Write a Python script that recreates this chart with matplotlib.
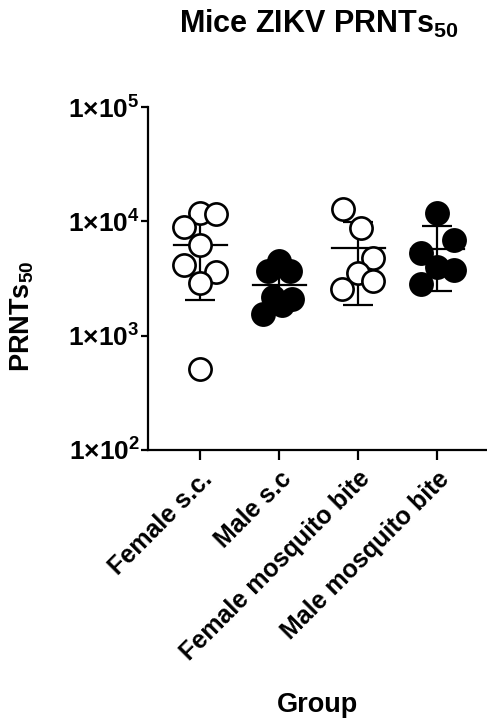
import numpy as np
import matplotlib
matplotlib.use("Agg")
import matplotlib.pyplot as plt

plt.rcParams['font.family'] = ['Liberation Sans', 'DejaVu Sans']
plt.rcParams['font.weight'] = 'bold'
plt.rcParams['mathtext.fontset'] = 'custom'
plt.rcParams['mathtext.rm'] = 'Liberation Sans:bold'
plt.rcParams['mathtext.bf'] = 'Liberation Sans:bold'
plt.rcParams['mathtext.it'] = 'Liberation Sans:bold'

groups = ['Female s.c.', 'Male s.c', 'Female mosquito bite', 'Male mosquito bite']
filled = [False, True, False, True]

# PRNT50 titres per mouse
female_sc = [11800, 11650, 9010, 6230, 4170, 3640, 2890, 512]
male_sc = [4500, 3650, 3700, 2200, 2100, 1850, 1560]
female_bite = [12780, 8720, 4770, 3530, 2990, 2560]
male_bite = [11800, 6890, 5270, 3980, 3718, 2845]
values = [female_sc, male_sc, female_bite, male_bite]

# horizontal scatter of the points inside each column
jitter = [
    [0, 0.2, -0.2, 0, -0.2, 0.2, 0, 0],
    [0, -0.14, 0.14, -0.08, 0.16, 0.04, -0.2],
    [-0.19, 0.03, 0.19, 0, 0.19, -0.2],
    [0, 0.21, -0.21, 0, 0.21, -0.21],
]

yticks = [1e2, 1e3, 1e4, 1e5]
ytick_labels = [r'$1{\times}10^{2}$', r'$1{\times}10^{3}$', r'$1{\times}10^{4}$', r'$1{\times}10^{5}$']

fig = plt.figure(figsize=(4.87, 7.21), dpi=100)
ax = fig.add_axes([148/487, 1-450/721, 1-148/487, 343/721])

for i, (vals, jit) in enumerate(zip(values, jitter)):
    v = np.array(vals, dtype=float)
    m = v.mean()
    sd = v.std(ddof=1)
    ax.errorbar(i, m, yerr=sd, fmt='none', ecolor='black', elinewidth=1.6,
                capsize=10.5, capthick=1.6, zorder=2)
    ax.plot([i-0.335, i+0.335], [m, m], color='black', lw=1.6, zorder=2)
    face = 'black' if filled[i] else 'white'
    ax.plot(i + np.array(jit), v, 'o', ms=16, mfc=face, mec='black', mew=1.9,
            zorder=3, clip_on=False)

ax.set_yscale('log')
ax.set_ylim(1e2, 1e5)
ax.set_yticks(yticks)
ax.set_yticklabels(ytick_labels)
ax.minorticks_off()
ax.set_xlim(-0.66, 3.63)
ax.set_xticks(range(len(groups)))
ax.set_xticklabels(groups, rotation=45, ha='right', rotation_mode='anchor')

for s in ['top', 'right']:
    ax.spines[s].set_visible(False)
for s in ['left', 'bottom']:
    ax.spines[s].set_linewidth(1.6)
ax.tick_params(axis='y', length=5, width=1.6, labelsize=19, pad=1)
ax.tick_params(axis='x', length=7, width=1.6, labelsize=18, pad=5)

fig.text(319/487, 1-33/721, r'Mice ZIKV PRNTs$_{50}$', ha='center', va='baseline',
         fontsize=22, fontweight='bold')
fig.text(22/487, 1-316/721, r'PRNTs$_{50}$', rotation=90, ha='center', va='center',
         fontsize=19.5, fontweight='bold')
fig.text(318/487, 1-712/721, 'Group', ha='center', va='baseline',
         fontsize=19.5, fontweight='bold')

fig.savefig('out.png', dpi=100)
